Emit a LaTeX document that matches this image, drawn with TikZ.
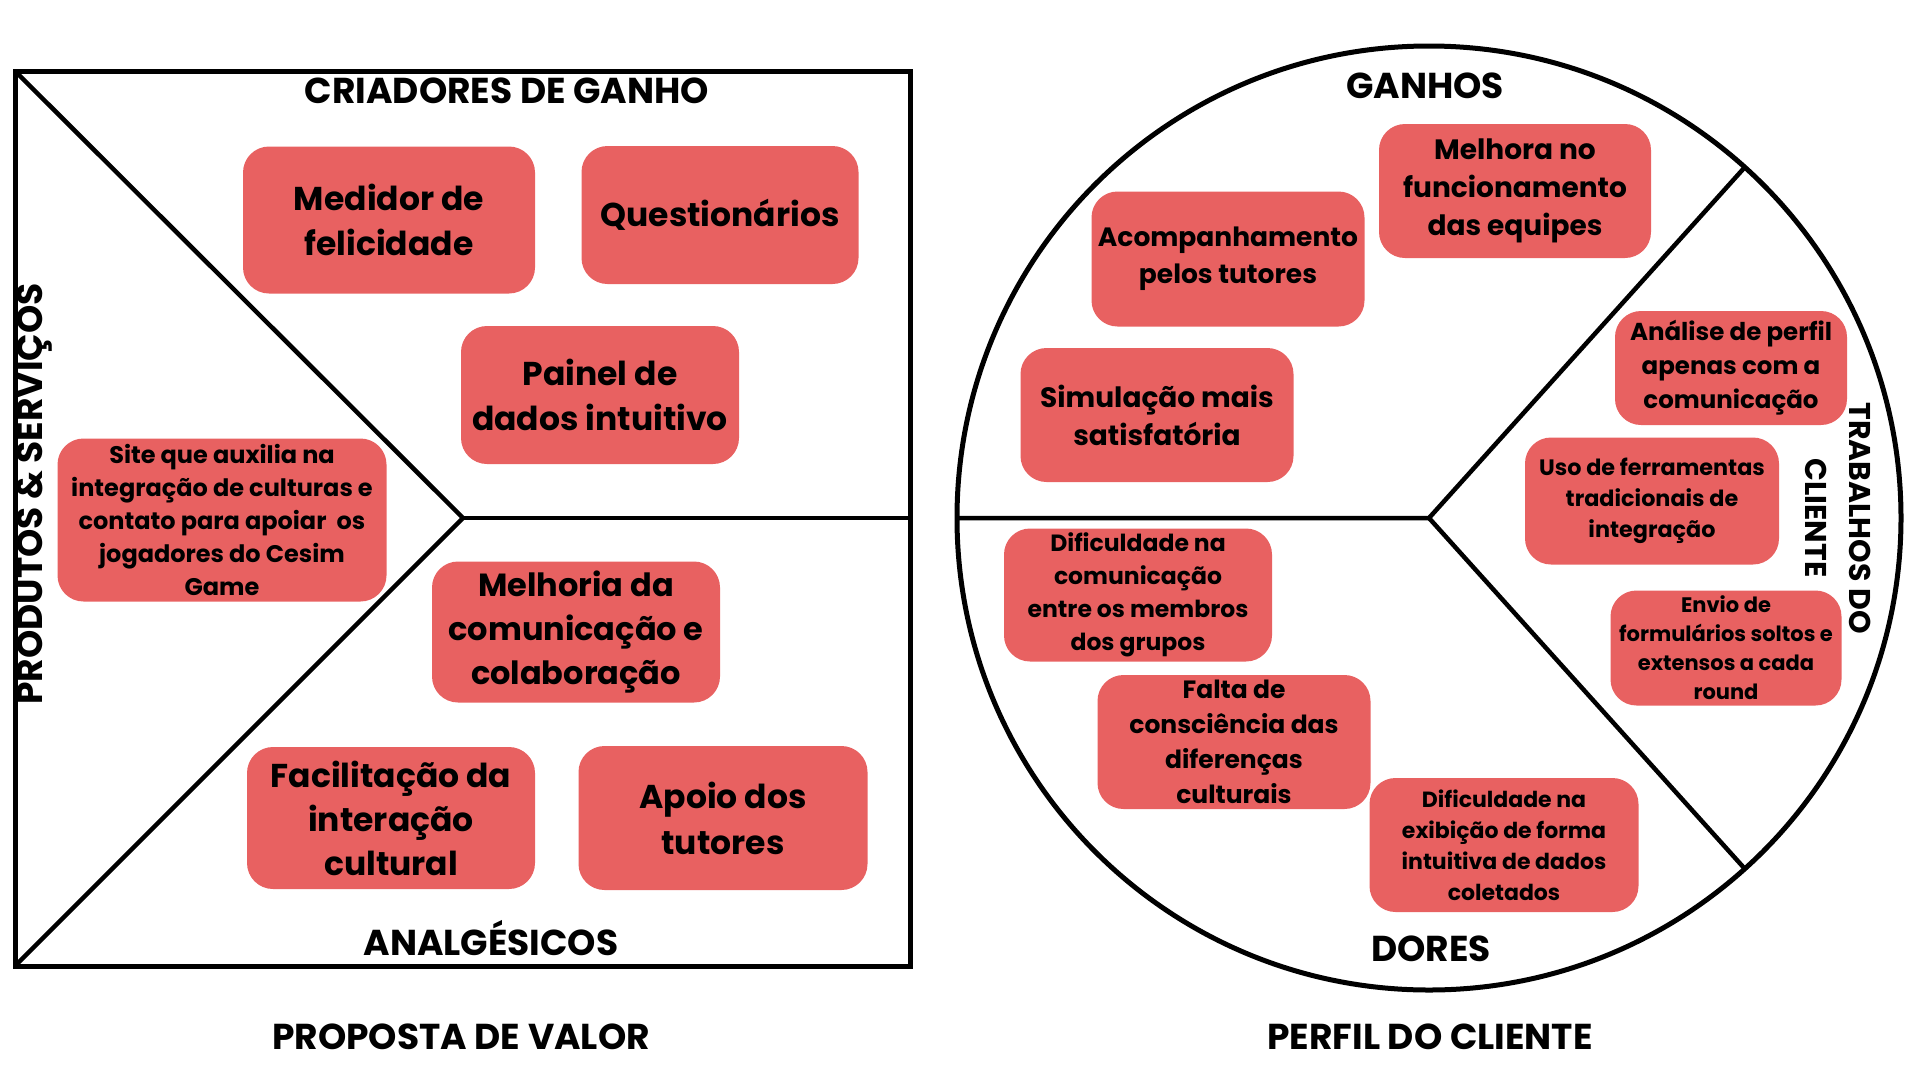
\documentclass[tikz,border=0pt]{standalone}
\usepackage{fontspec}
\setmainfont{Poppins}
\definecolor{boxred}{RGB}{232,97,97}
\newcommand{\fsz}[2]{\bfseries\fontsize{#1}{#2}\selectfont}
\tikzset{
  card/.style={fill=boxred, rounded corners=26pt, align=center, inner sep=0pt},
  big/.style={card, font=\fsz{33}{45}},
  mid/.style={card, font=\fsz{28}{38}},
  small/.style={card, font=\fsz{24}{33}},
  title/.style={font=\fsz{36}{44}, inner sep=0pt, anchor=base},
  frame/.style={line width=5pt, black},
  divider/.style={line width=4.5pt, black},
}
\begin{document}
\begin{tikzpicture}[x=1pt,y=-1pt]
\useasboundingbox (0,0) rectangle (1920,1080);
% ---- value proposition square
\coordinate (sqTL) at (15,71);
\coordinate (sqBL) at (15,966);
\coordinate (sqBR) at (910,966);
\coordinate (sqC) at (463,518);
\coordinate (sqR) at (910,518);
\draw[frame] (sqTL) rectangle (sqBR);
\draw[divider, line join=miter] (sqTL) -- (sqC) -- (sqBL);
\draw[divider] (sqC) -- (sqR);
% ---- customer profile circle
\coordinate (cC) at (1429,518);
\draw[frame] (cC) circle[radius=472];
\coordinate (cL) at (957,518);
\coordinate (cU) at (1745,167);
\coordinate (cD) at (1745,869);
\draw[divider, line join=miter] (cL) -- (cC) -- (cU);
\draw[divider] (cC) -- (cD);
% ---- titles
\node[title] (tcria) at (507,103) {CRIADORES DE GANHO};
\node[title] (tanal) at (491,955) {ANALGÉSICOS};
\node[title, rotate=90, anchor=center] (tprod) at (34,494) {PRODUTOS \& SERVIÇOS};
\node[title] (tprop) at (461,1049) {PROPOSTA DE VALOR};
\node[title] (tperf) at (1430,1049) {PERFIL DO CLIENTE};
\node[title] (tganh) at (1425,98) {GANHOS};
\node[title] (tdore) at (1431,961) {DORES};
\node[title, rotate=-90, anchor=center, align=center, font=\fsz{30}{44}] (ttrab) at (1838,518) {TRABALHOS DO\\CLIENTE};
% ---- value proposition cards
\node[big, minimum width=292pt, minimum height=147pt] (b1) at (389,220) {Medidor de\\felicidade};
\node[big, minimum width=277pt, minimum height=138pt] (b2) at (720,215) {Questionários};
\node[big, minimum width=278pt, minimum height=138pt] (b3) at (600,395) {Painel de\\dados intuitivo};
\node[small, minimum width=329pt, minimum height=163pt] (b4) at (222,520) {Site que auxilia na\\integração de culturas e\\contato para apoiar\ \ os\\jogadores do Cesim\\Game};
\node[big, minimum width=288pt, minimum height=141pt, font=\fsz{32}{44}] (b5) at (576,632) {Melhoria da\\comunicação e\\colaboração};
\node[big, minimum width=288pt, minimum height=142pt, font=\fsz{33}{44}] (b6) at (391,818) {Facilitação da\\interação\\cultural};
\node[big, minimum width=289pt, minimum height=144pt, font=\fsz{33}{46}] (b7) at (723,818) {Apoio dos\\tutores};
% ---- customer profile cards
\node[mid, minimum width=272pt, minimum height=134pt] (c1) at (1515,191) {Melhora no\\funcionamento\\das equipes};
\node[mid, minimum width=273pt, minimum height=135pt, font=\fsz{26.5}{37}] (c2) at (1228,259) {Acompanhamento\\pelos tutores};
\node[mid, minimum width=273pt, minimum height=134pt] (c3) at (1157,415) {Simulação mais\\satisfatória};
\node[small, minimum width=232pt, minimum height=114pt, font=\fsz{24.5}{34}] (c4) at (1731,368) {Análise de perfil\\apenas com a\\comunicação};
\node[small, minimum width=254pt, minimum height=127pt, font=\fsz{22.3}{31.3}] (c5) at (1652,501) {Uso de ferramentas\\tradicionais de\\integração};
\node[small, minimum width=231pt, minimum height=115pt, font=\fsz{21}{29}] (c6) at (1726,648) {Envio de\\formulários soltos e\\extensos a cada\\round};
\node[small, minimum width=268pt, minimum height=133pt, font=\fsz{23.5}{33}] (c7) at (1138,595) {Dificuldade na\\comunicação\\entre os membros\\dos grupos};
\node[small, minimum width=273pt, minimum height=134pt, font=\fsz{25}{35}] (c8) at (1234,742) {Falta de\\consciência das\\diferenças\\culturais};
\node[small, minimum width=269pt, minimum height=134pt, font=\fsz{22}{31}] (c9) at (1504,845) {Dificuldade na\\exibição de forma\\intuitiva de dados\\coletados};
\end{tikzpicture}
\end{document}
